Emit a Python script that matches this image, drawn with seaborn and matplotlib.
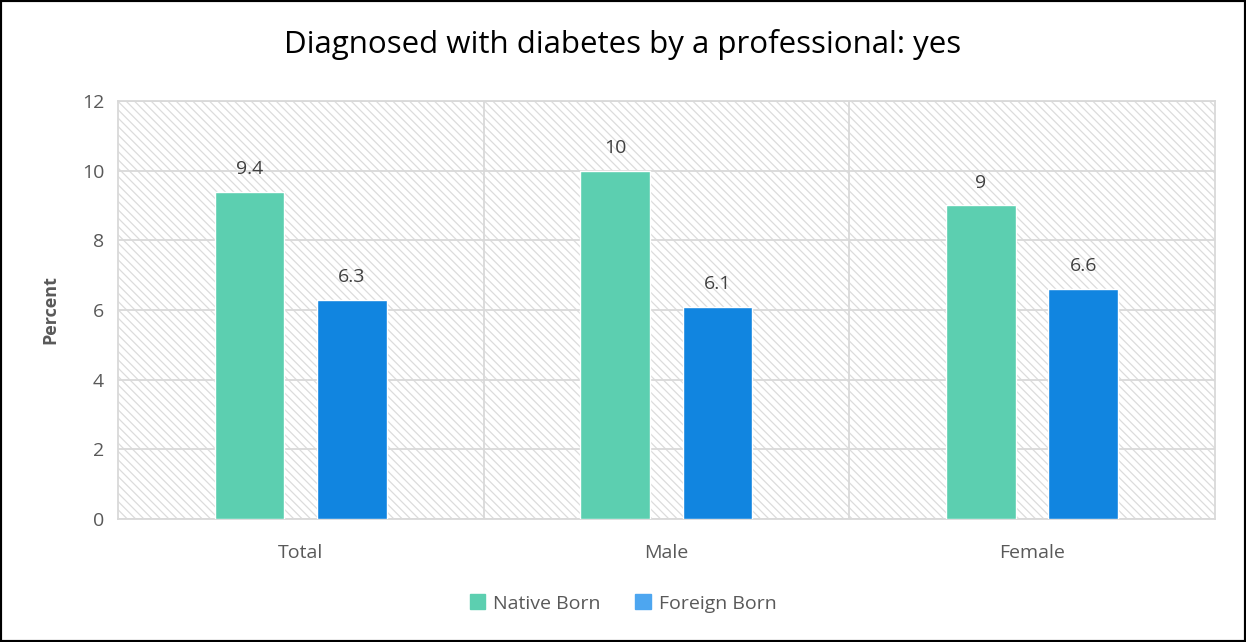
import seaborn as sns
import matplotlib.pyplot as plt
import matplotlib.patches as mpatches
import pandas as pd

# data
groups = ["Total", "Male", "Female"]
native_born = [9.4, 10, 9]
foreign_born = [6.3, 6.1, 6.6]
series = ["Native Born", "Foreign Born"]

df = pd.DataFrame({
    "group": groups * 2,
    "value": native_born + foreign_born,
    "series": [series[0]] * 3 + [series[1]] * 3,
})

sns.set_theme(style="white")
plt.rcParams['font.family'] = ['Open Sans', 'DejaVu Sans']
plt.rcParams['hatch.linewidth'] = 0.9
plt.rcParams['hatch.color'] = '#dcdcdc'

fig = plt.figure(figsize=(12.46, 6.42), dpi=100)
ax = fig.add_axes([0.0947, 0.1916, 0.8803, 0.6511])

bar_colors = ["#5ccfb0", "#1185e0"]
sns.barplot(data=df, x="group", y="value", hue="series", palette=bar_colors,
            width=0.56, gap=0.32, ax=ax, legend=False, zorder=3, saturation=1)

# hatched plot area background
ax.set_facecolor("white")
ax.add_patch(mpatches.Rectangle((0, 0), 1, 1, transform=ax.transAxes,
                                facecolor="white", edgecolor="#dcdcdc",
                                hatch="\\\\\\\\", lw=0, zorder=0))

ax.set_xlim(-0.5, 2.5)
ax.set_ylim(0, 12)
ax.set_yticks(range(0, 13, 2))
ax.yaxis.grid(True, color="#d9d9d9", lw=1.3, zorder=1)
for xv in [0.5, 1.5]:
    ax.axvline(xv, color="#d9d9d9", lw=1.3, zorder=1)
for s in ax.spines.values():
    s.set_color("#d9d9d9")
    s.set_linewidth(1.3)

ax.tick_params(axis="both", length=0, labelsize=14, labelcolor="#595959")
ax.tick_params(axis="y", pad=10)
ax.tick_params(axis="x", pad=18)
ax.set_xlabel("")
ax.set_ylabel("Percent", fontsize=13, fontweight="bold", color="#595959", labelpad=16)

# value labels
for cont in ax.containers:
    for bar in cont:
        h = bar.get_height()
        ax.annotate(f"{h:g}", (bar.get_x() + bar.get_width() / 2, h),
                    xytext=(0, 10), textcoords="offset points",
                    ha="center", va="bottom", fontsize=14, color="#404040")

fig.suptitle("Diagnosed with diabetes by a professional: yes", y=0.955,
             fontsize=22.5, color="black")

handles = [mpatches.Patch(color="#5ccfb0", label="Native Born"),
           mpatches.Patch(color="#4da6f0", label="Foreign Born")]
fig.legend(handles=handles, loc="center", bbox_to_anchor=(0.5, 0.06), ncol=2,
           frameon=False, fontsize=14, handlelength=0.8, handleheight=0.8,
           columnspacing=1.8, handletextpad=0.4, labelcolor="#595959")

fig.add_artist(mpatches.Rectangle((0, 0), 1, 1, transform=fig.transFigure,
                                  fill=False, edgecolor="black", lw=3))

fig.savefig("out.png", dpi=100)
